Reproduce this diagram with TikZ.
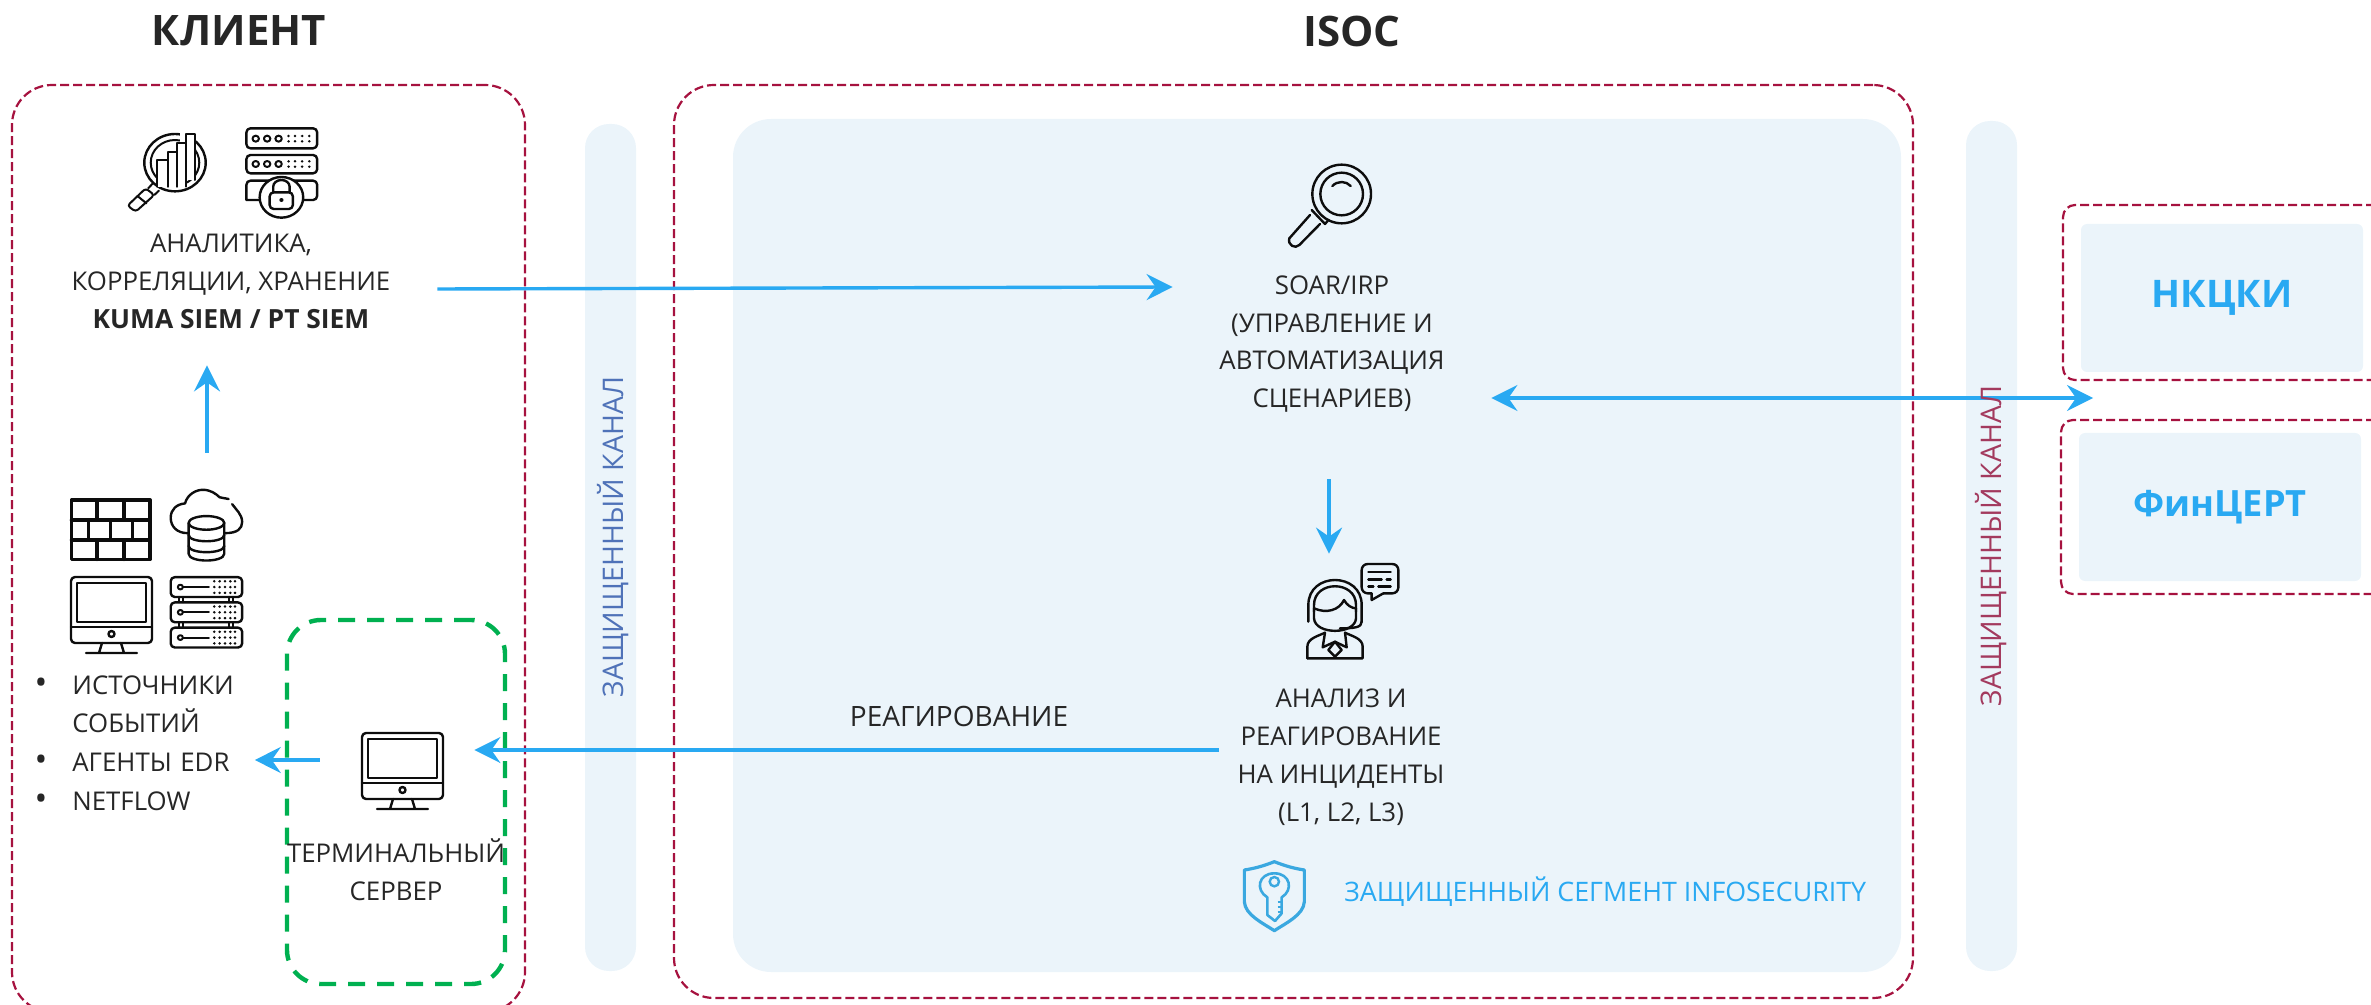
\documentclass[tikz,border=0pt]{standalone}
\usepackage{fontspec}
\setmainfont{Open Sans}
\usetikzlibrary{arrows.meta}
\definecolor{crim}{HTML}{A6123F}
\definecolor{grn}{HTML}{00B050}
\definecolor{pale}{HTML}{EBF4FA}
\definecolor{sky}{HTML}{29A9F2}
\definecolor{ink}{HTML}{262626}
\definecolor{icon}{HTML}{0D0D0D}
\definecolor{shieldc}{HTML}{3AA8E0}
\definecolor{chblue}{HTML}{4F72B8}
\definecolor{chred}{HTML}{A33A5E}
\tikzset{
  redbox/.style={draw=crim,line width=1.1pt,dash pattern=on 4.5pt off 2pt,inner sep=0},
  greenbox/.style={draw=grn,line width=2.2pt,dash pattern=on 8.5pt off 6pt,rounded corners=17pt,inner sep=0},
  panel/.style={fill=pale,inner sep=0},
  flow/.style={draw=sky,line width=1.7pt,-{Stealth[length=13pt,width=13pt,inset=4.5pt]}},
  twoway/.style={draw=sky,line width=1.7pt,{Stealth[length=13pt,width=13pt,inset=4.5pt]}-{Stealth[length=13pt,width=13pt,inset=4.5pt]}},
  body/.style={text=ink,align=center,inner sep=0,font=\fontsize{12.9}{18.9}\selectfont},
  title/.style={text=ink,inner sep=0,font=\fontsize{21}{25}\selectfont\bfseries},
  ic/.style={draw=icon,line width=1.2pt,line cap=round,line join=round},
  pics/monitoricon/.style={code={
    \draw[ic,rounded corners=2pt] (0,0) rectangle (81,66);
    \draw[ic] (6,6) rectangle (75,45);
    \draw[ic] (0,50) -- (81,50);
    \draw[ic] (40.5,57) circle (3);
    \draw[ic] (31,66) -- (28,76) (50,66) -- (53,76) (15,76) -- (66,76);
  }},
}
\newcommand{\bulletmark}{\makebox[19.5pt][l]{\hspace{0.6pt}{\fontsize{17}{18.9}\selectfont •}}}
\begin{document}
\begin{tikzpicture}[x=0.5pt,y=-0.5pt]
\useasboundingbox (0,0) rectangle (2371,1005);
\clip (0,0) rectangle (2371,1005);
% panels
\node[panel,rounded corners=12pt,minimum width=25.5pt,minimum height=423.5pt] (chanA) at (610.5,547.5) {};
\node[panel,rounded corners=12pt,minimum width=25.5pt,minimum height=425pt] (chanB) at (1991.5,546) {};
\node[panel,rounded corners=19pt,minimum width=584pt,minimum height=426.5pt] (secure) at (1317,545.5) {};
% boxes
\node[redbox,rounded corners=20pt,minimum width=256.5pt,minimum height=463.5pt] (client) at (268.5,548.5) {};
\node[redbox,rounded corners=20pt,minimum width=619.5pt,minimum height=456.5pt] (isoc) at (1293.5,541.5) {};
\node[redbox,rounded corners=6pt,minimum width=168.5pt,minimum height=87.5pt] (nkckiBox) at (2231.5,292.5) {};
\node[redbox,rounded corners=6pt,minimum width=169.5pt,minimum height=87pt] (finBox) at (2230.5,507) {};
\node[greenbox,minimum width=109pt,minimum height=182pt] (term) at (396,802) {};
\node[panel,rounded corners=3pt,minimum width=141pt,minimum height=74pt,text=sky,font=\fontsize{19}{23}\selectfont\bfseries] (nkcki) at (2222,298) {\raisebox{1.25pt}{НКЦКИ}};
\node[panel,rounded corners=3pt,minimum width=141pt,minimum height=74pt,text=sky,font=\fontsize{18.1}{23}\selectfont\bfseries] (fincert) at (2220,507) {\raisebox{-3.75pt}{ФинЦЕРТ}};
% titles
\node[title] (tClient) at (239,30.5) {КЛИЕНТ};
\node[title] (tIsoc) at (1352,31.5) {ISOC};
% text blocks
\node[body,minimum width=206pt,minimum height=82pt] (siem) at (231,281.5) {АНАЛИТИКА,\\КОРРЕЛЯЦИИ, ХРАНЕНИЕ\\{\fontsize{13.2}{18.9}\selectfont\bfseries KUMA SIEM / PT SIEM}};
\node[body,minimum width=159pt,minimum height=135pt] (soar) at (1332,344) {SOAR/IRP\\(УПРАВЛЕНИЕ И\\АВТОМАТИЗАЦИЯ\\СЦЕНАРИЕВ)};
\node[body,minimum width=122pt] (agent) at (1341,757) {АНАЛИЗ И\\РЕАГИРОВАНИЕ\\НА ИНЦИДЕНТЫ\\(L1, L2, L3)};
\node[body,anchor=west,text width=110.5pt,align=left] (src) at (33,743) {\bulletmark ИСТОЧНИКИ\\[0.4pt]\makebox[19.5pt]{}СОБЫТИЙ\\[0.4pt]\bulletmark АГЕНТЫ EDR\\[0.4pt]\bulletmark NETFLOW};
\node[body] (termText) at (396,870) {ТЕРМИНАЛЬНЫЙ\\СЕРВЕР};
\node[body,font=\fontsize{14}{18.9}\selectfont] (respLabel) at (959,716.5) {РЕАГИРОВАНИЕ};
\node[body,text=sky,anchor=west,font=\fontsize{13.4}{18.9}\selectfont] (segLabel) at (1344,892) {ЗАЩИЩЕННЫЙ СЕГМЕНТ INFOSECURITY};
% icon anchors
\node[inner sep=0,minimum width=85.5pt,minimum height=81.5pt] (srcIcons) at (156.5,571.5) {};
\node[inner sep=0,minimum width=77pt,minimum height=38pt] (termIcon) at (397,771) {};
\node[inner sep=0,minimum width=45pt,minimum height=48pt] (agentIcon) at (1353,611) {};
\coordinate (extern) at (2093,398);
% connectors
\draw[flow] ([shift={(0,7.5)}]siem.east) -- ([shift={(0,-57)}]soar.west);
\draw[flow] ([shift={(50.5,-37)}]srcIcons.north) -- ([shift={(-24,1.5)}]siem.south);
\draw[flow] ([shift={(-3,0)}]soar.south) -- ([shift={(-24,-9)}]agentIcon.north);
\draw[twoway] ([shift={(0,54)}]soar.east) -- (extern);
\draw[flow] ([shift={(0,-7)}]agent.west) -- ([shift={(0,-21)}]termIcon.east);
\draw[flow] ([shift={(0,-11)}]termIcon.west) -- ([shift={(0,17)}]src.east);
% vertical labels
\node[body,text=chblue,rotate=90,font=\fontsize{14.2}{18.9}\selectfont] (chanAText) at (613,537) {ЗАЩИЩЕННЫЙ КАНАЛ};
\node[body,text=chred,rotate=90,font=\fontsize{14.2}{18.9}\selectfont] (chanBText) at (1991,546) {ЗАЩИЩЕННЫЙ КАНАЛ};
% ---- icons: client, top
\begin{scope}[x=0.17857pt,y=-0.16667pt]
  % magnifier + bars
  \draw[ic] (490,488) circle (86);
  \draw[ic,line width=1pt] (490,488) circle (68);
  \fill[white] (505,400) rectangle (545,425);
  \draw[ic,line width=1pt,fill=white] (440,560) -- (440,480) -- (470,480) -- (470,560);
  \draw[ic,line width=1pt,fill=white] (470,560) -- (470,455) -- (495,455) -- (495,560);
  \draw[ic,line width=1pt,fill=white] (495,560) -- (495,430) -- (520,430) -- (520,560);
  \draw[ic,line width=1pt,fill=white] (520,540) -- (520,402) -- (545,402) -- (545,540);
  \draw[ic,line width=1pt] (428,550) -- (415,565) (445,572) -- (432,585);
  \draw[ic,line width=1pt,fill=white,rounded corners=1.5pt] (357,617) -- (408,565) -- (432,585) -- (380,635) -- cycle;
  \draw[ic,line width=1pt] (385,588) -- (410,610);
  % server + lock
  \draw[ic,rounded corners=2pt] (690,385) rectangle (888,445);
  \draw[ic,rounded corners=2pt] (690,465) rectangle (888,520);
  \draw[ic,rounded corners=2pt] (690,600) -- (690,542) -- (888,542) -- (888,600) -- (690,600);
  \foreach \yy in {416,492} {
    \foreach \xx in {716,748,780} \draw[ic,line width=1pt] (\xx,\yy) circle (9);
    \foreach \xx in {808,826,846,866} \foreach \dd in {-8,8} \fill[icon] (\xx,\yy+\dd) circle (4);
  }
  \draw[ic,fill=white] (788,592) circle (61);
  \draw[ic,rounded corners=2pt] (755,577) rectangle (820,627);
  \draw[ic] (765,577) -- (765,560) arc[start angle=180,end angle=360,x radius=23,y radius=20] -- (811,577);
  \fill[icon] (788,600) circle (6);
\end{scope}
% ---- icons: sources
\begin{scope}[shift={(0,470)},x=0.17857pt,y=-0.17065pt]
  % firewall
  \draw[ic,line width=1.7pt] (200,88) rectangle (420,262);
  \draw[ic,line width=1.7pt] (200,147) -- (420,147) (200,205) -- (420,205);
  \draw[ic,line width=1.7pt] (272,88) -- (272,147) (347,88) -- (347,147);
  \draw[ic,line width=1.7pt] (247,147) -- (247,205) (309,147) -- (309,205) (371,147) -- (371,205);
  \draw[ic,line width=1.7pt] (272,205) -- (272,262) (347,205) -- (347,262);
  % cloud database
  \draw[ic] (525,185) .. controls (495,185) and (478,165) .. (478,140)
    .. controls (478,115) and (495,100) .. (518,98)
    .. controls (525,70) and (550,58) .. (568,58)
    .. controls (590,58) and (605,70) .. (615,80) -- (640,85);
  \draw[ic] (650,100) .. controls (660,115) and (678,130) .. (678,152) .. controls (678,172) and (665,185) .. (630,185);
  \draw[ic] (578,155) ellipse (50 and 20);
  \draw[ic] (528,155) -- (528,245) .. controls (528,272) and (628,272) .. (628,245) -- (628,155);
  \draw[ic] (528,190) .. controls (528,215) and (628,215) .. (628,190);
  \draw[ic] (528,222) .. controls (528,247) and (628,247) .. (628,222);
  % rack
  \foreach \yy in {314,388,462} {
    \draw[ic,rounded corners=2pt] (478,\yy) rectangle (678,\yy+58);
    \draw[ic,line width=1pt] (505,\yy+29) circle (7);
    \draw[ic,line width=1pt] (512,\yy+29) -- (585,\yy+29);
    \foreach \xx in {600,615,630,645,658} \foreach \dd in {12,29,46} \fill[icon] (\xx,\yy+\dd) circle (4);
  }
  \draw[ic,line width=1pt] (500,372) -- (500,388) (512,372) -- (512,388) (640,372) -- (640,388) (652,372) -- (652,388);
  \draw[ic,line width=1pt] (500,446) -- (500,462) (512,446) -- (512,462) (640,446) -- (640,462) (652,446) -- (652,462);
\end{scope}
\pic at (71,577) {monitoricon};
\pic at (362,733) {monitoricon};
% ---- SOAR magnifier
\begin{scope}[shift={(1200,130)},x=0.16667pt,y=-0.16667pt]
  \draw[ic] (425,192) circle (88);
  \draw[ic] (425,192) circle (64);
  \draw[ic] (397,168) .. controls (412,152) and (438,152) .. (452,168);
  \draw[ic] (335,240) -- (375,282) -- (385,270);
  \draw[ic] (330,255) -- (268,325) .. controls (262,345) and (285,358) .. (298,345) -- (360,282);
\end{scope}
% ---- agent + key
\begin{scope}[shift={(1180,540)},x=0.16667pt,y=-0.16667pt]
  \draw[ic] (385,245) -- (385,195) .. controls (385,95) and (545,95) .. (545,195) -- (545,245);
  \draw[ic] (402,215) -- (402,195) .. controls (402,120) and (528,120) .. (528,195) -- (528,215);
  \draw[ic] (402,205) .. controls (440,222) and (478,210) .. (492,180) .. controls (500,195) and (515,205) .. (528,205);
  \draw[ic] (402,205) -- (402,235) .. controls (405,285) and (525,285) .. (528,235) -- (528,205);
  \draw[ic] (545,245) .. controls (545,262) and (525,265) .. (480,265);
  \draw[ic] (382,355) -- (382,320) .. controls (382,295) and (415,288) .. (435,278);
  \draw[ic] (495,278) .. controls (515,288) and (548,295) .. (548,320) -- (548,355) -- (382,355);
  \draw[ic] (435,278) -- (428,322) -- (465,305) -- (500,322) -- (495,278);
  \draw[ic] (465,305) -- (445,330) -- (465,350) -- (485,330) -- (465,305);
  \draw[ic,rounded corners=3pt] (545,72) rectangle (655,160);
  \fill[pale] (575,155) rectangle (610,166);
  \draw[ic] (575,160) -- (575,180) -- (610,160);
  \draw[ic] (565,96) -- (632,96) (565,118) -- (605,118) (620,118) -- (632,118) (565,140) -- (580,140) (595,140) -- (632,140);
  % key shield
  \draw[draw=shieldc,line width=1.6pt,line join=round] (283,965) .. controls (250,978) and (225,985) .. (193,990) -- (193,1085) .. controls (195,1125) and (250,1150) .. (283,1172) .. controls (316,1150) and (371,1125) .. (373,1085) -- (373,990) .. controls (341,985) and (316,978) .. (283,965) -- cycle;
  \draw[draw=shieldc,line width=1.3pt,line join=round] (262,1072) .. controls (225,1050) and (235,1000) .. (283,1000) .. controls (331,1000) and (341,1050) .. (305,1072) -- (305,1120) -- (285,1143) -- (262,1125) -- cycle;
  \draw[draw=shieldc,line width=1.2pt] (283,1025) circle (14);
  \draw[draw=shieldc,line width=1pt] (293,1085) -- (305,1085) (293,1100) -- (305,1100) (293,1115) -- (305,1115);
\end{scope}
\end{tikzpicture}
\end{document}
